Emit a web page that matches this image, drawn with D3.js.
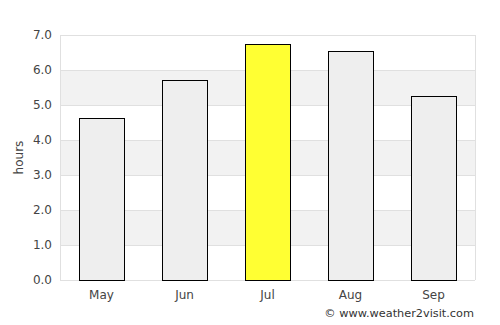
<!DOCTYPE html>
<html>
<head>
<meta charset="utf-8">
<script src="https://cdn.jsdelivr.net/npm/d3@7"></script>
<style>
  body { margin: 0; background: #fff; }
  text { font-family: "DejaVu Sans", sans-serif; }
</style>
</head>
<body>
<div id="chart"></div>
<script>
var months = ["May", "Jun", "Jul", "Aug", "Sep"];
var hours = [4.63, 5.71, 6.74, 6.54, 5.26];
var yTicks = [0, 1, 2, 3, 4, 5, 6, 7];
var highlight = "Jul";

var width = 500, height = 325;
var margin = { top: 35, right: 25, bottom: 45, left: 60 };
var innerW = width - margin.left - margin.right;
var innerH = height - margin.top - margin.bottom;

var svg = d3.select("#chart").append("svg")
    .attr("width", width)
    .attr("height", height);

var g = svg.append("g")
    .attr("transform", "translate(" + margin.left + "," + margin.top + ")");

var x = d3.scaleBand()
    .domain(months)
    .range([0, innerW])
    .paddingInner(0.458)
    .paddingOuter(0.229);

var y = d3.scaleLinear()
    .domain([0, 7])
    .range([innerH, 0]);

// alternating bands
g.selectAll("rect.band")
  .data(yTicks.slice(0, -1).filter(function(d) { return d % 2 == 1; }))
  .enter().append("rect")
    .attr("class", "band")
    .attr("x", 0)
    .attr("width", innerW)
    .attr("y", function(d) { return y(d + 1); })
    .attr("height", function(d) { return y(d) - y(d + 1); })
    .attr("fill", "#f2f2f2");

// gridlines
g.selectAll("line.grid")
  .data(yTicks)
  .enter().append("line")
    .attr("x1", 0)
    .attr("x2", innerW)
    .attr("y1", function(d) { return Math.round(y(d)) + 0.5; })
    .attr("y2", function(d) { return Math.round(y(d)) + 0.5; })
    .attr("stroke", "#e0e0e0");

g.append("line")
    .attr("x1", 0.5).attr("x2", 0.5)
    .attr("y1", 0).attr("y2", innerH)
    .attr("stroke", "#e0e0e0");
g.append("line")
    .attr("x1", innerW + 0.5).attr("x2", innerW + 0.5)
    .attr("y1", 0).attr("y2", innerH)
    .attr("stroke", "#e0e0e0");

// bars
g.selectAll("rect.bar")
  .data(months)
  .enter().append("rect")
    .attr("class", "bar")
    .attr("x", function(d) { return Math.round(x(d)) + 0.5; })
    .attr("width", Math.round(x.bandwidth()))
    .attr("y", function(d, i) { return Math.round(y(hours[i])) + 0.5; })
    .attr("height", function(d, i) { return innerH - Math.round(y(hours[i])); })
    .attr("fill", function(d) { return d == highlight ? "#ffff33" : "#eeeeee"; })
    .attr("stroke", "#000")
    .attr("stroke-width", 1);

// y axis labels
g.selectAll("text.ytick")
  .data(yTicks)
  .enter().append("text")
    .attr("class", "ytick")
    .attr("x", -8)
    .attr("y", function(d) { return y(d); })
    .attr("dy", "0.35em")
    .attr("text-anchor", "end")
    .attr("font-size", 12)
    .attr("fill", "#444")
    .text(function(d) { return d3.format(".1f")(d); });

// x axis labels
g.selectAll("text.xtick")
  .data(months)
  .enter().append("text")
    .attr("class", "xtick")
    .attr("x", function(d) { return x(d) + x.bandwidth() / 2; })
    .attr("y", innerH + 19)
    .attr("text-anchor", "middle")
    .attr("font-size", 12)
    .attr("fill", "#444")
    .text(function(d) { return d; });

svg.append("text")
    .attr("transform", "translate(23," + (margin.top + innerH / 2) + ") rotate(-90)")
    .attr("text-anchor", "middle")
    .attr("font-size", 12)
    .attr("fill", "#444")
    .text("hours");

svg.append("text")
    .attr("x", 474)
    .attr("y", 317)
    .attr("text-anchor", "end")
    .attr("font-size", 11.3)
    .attr("fill", "#333")
    .text("© www.weather2visit.com");
</script>
</body>
</html>
